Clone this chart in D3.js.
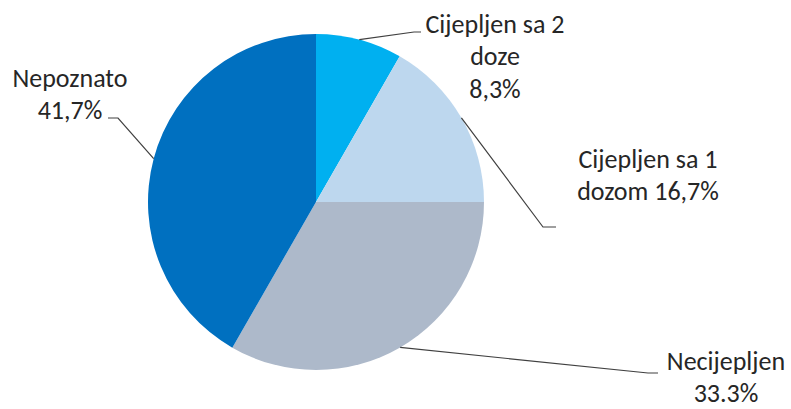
<!DOCTYPE html>
<html><head><meta charset="utf-8">
<script src="https://cdn.jsdelivr.net/npm/d3@7"></script>
<style>html,body{margin:0;padding:0;background:#fff;}svg{display:block;}</style>
</head><body>
<svg id="c" width="791" height="409"></svg>
<script>
const categories = ["Cijepljen sa 2 doze", "Cijepljen sa 1 dozom", "Necijepljen", "Nepoznato"];
const values = [8.3, 16.7, 33.3, 41.7];
const labelLines = [["Cijepljen sa 2", "doze", "8,3%"], ["Cijepljen sa 1", "dozom 16,7%"], ["Necijepljen", "33.3%"], ["Nepoznato", "41,7%"]];
const colors = ["#00b0f0", "#bdd7ee", "#adb9ca", "#0070c0"];

const svg = d3.select("#c");
const cx = 316, cy = 202, r = 168;
const g = svg.append("g").attr("transform", `translate(${cx},${cy})`);
const pie = d3.pie().sort(null).value(d => d);
const arcs = pie(values);
const arc = d3.arc().innerRadius(0).outerRadius(r);
const color = d3.scaleOrdinal().domain(categories).range(colors);

g.selectAll("path.slice").data(arcs).enter().append("path")
  .attr("class", "slice")
  .attr("d", arc)
  .attr("fill", (d, i) => color(categories[i]));

// label layout (absolute page coordinates)
const layout = [
  {tx: 495, ty: 33, lh: 32.3, elbow: [414, 32], end: [421, 32]},
  {tx: 648, ty: 168, lh: 32, elbow: [543, 227], end: [556, 227]},
  {tx: 726, ty: 370, lh: 31.5, elbow: [648, 373], end: [658, 373]},
  {tx: 70, ty: 87, lh: 31.5, elbow: [118, 118], end: [108, 118]}
];

arcs.forEach((d, i) => {
  const a = (d.startAngle + d.endAngle) / 2;
  const sx = cx + r * Math.sin(a), sy = cy - r * Math.cos(a);
  const L = layout[i];
  svg.append("polyline")
    .attr("points", [[sx, sy], L.elbow, L.end].map(p => p.join(",")).join(" "))
    .attr("fill", "none").attr("stroke", "#404040").attr("stroke-width", 1.2);
  const t = svg.append("text")
    .attr("text-anchor", "middle")
    .attr("font-family", "Carlito, Calibri, 'Open Sans', sans-serif")
    .attr("font-size", 26)
    .attr("fill", "#262626");
  labelLines[i].forEach((ln, j) => {
    t.append("tspan").attr("x", L.tx).attr("y", L.ty + j * L.lh).text(ln);
  });
});
</script>
</body></html>
